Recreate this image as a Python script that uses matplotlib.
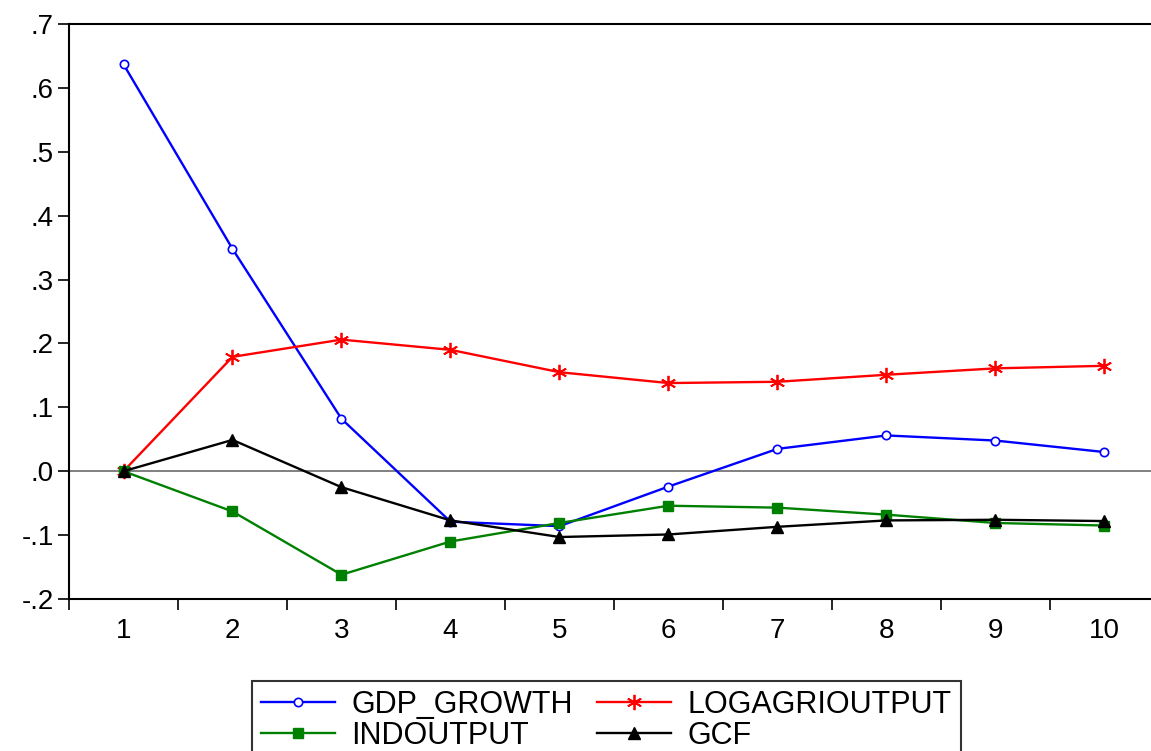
import matplotlib
matplotlib.use("Agg")
import matplotlib.pyplot as plt
from matplotlib.ticker import FixedLocator, FuncFormatter
import numpy as np

plt.rcParams['font.family'] = ['Liberation Sans', 'DejaVu Sans']

periods = [1, 2, 3, 4, 5, 6, 7, 8, 9, 10]
gdp_growth = [0.637, 0.348, 0.082, -0.079, -0.086, -0.024, 0.035, 0.056, 0.048, 0.030]
logagrioutput = [0.0, 0.179, 0.206, 0.190, 0.155, 0.138, 0.140, 0.151, 0.161, 0.165]
indoutput = [0.0, -0.063, -0.162, -0.110, -0.081, -0.054, -0.057, -0.068, -0.081, -0.085]
gcf = [0.0, 0.049, -0.025, -0.077, -0.103, -0.099, -0.087, -0.077, -0.076, -0.078]

fig = plt.figure(figsize=(11.51, 7.51), dpi=100)
ax = fig.add_axes([69/1151, 152/751, 1090/1151, 575/751])

ax.axhline(0, color='#808080', lw=1.4, zorder=1)

l1, = ax.plot(periods, gdp_growth, color='blue', lw=1.7, marker='o', ms=6,
              mfc='white', mec='blue', mew=1.2, label='GDP_GROWTH')
l2, = ax.plot(periods, logagrioutput, color='red', lw=1.7, marker=(6, 2, 0), ms=11,
              mec='red', mew=1.3, label='LOGAGRIOUTPUT')
l3, = ax.plot(periods, indoutput, color='green', lw=1.7, marker='s', ms=7,
              mfc='green', mec='green', label='INDOUTPUT')
l4, = ax.plot(periods, gcf, color='black', lw=1.7, marker='^', ms=8,
              mfc='black', mec='black', label='GCF')

ax.set_xlim(0.5, 10.5)
ax.set_ylim(-0.2, 0.7)

ax.set_xticks(periods)
ax.set_xticklabels([str(p) for p in periods])
ax.xaxis.set_minor_locator(FixedLocator(np.arange(0.5, 11, 1)))
ax.tick_params(axis='x', which='major', length=0, pad=14, labelsize=20)
ax.tick_params(axis='x', which='minor', direction='out', length=8, width=1.2)

ax.set_yticks(np.round(np.arange(-0.2, 0.71, 0.1), 1))
ax.yaxis.set_major_formatter(FuncFormatter(lambda v, p: f"{v:.1f}".replace("0.", ".")))
ax.tick_params(axis='y', direction='out', length=8, width=1.2, pad=3, labelsize=20)

for side in ['left', 'bottom', 'top', 'right']:
    ax.spines[side].set_linewidth(1.5)
    ax.spines[side].set_color('black')

# column-first fill, so order gives rows GDP/LOGAGRI and IND/GCF
leg = fig.legend([l1, l3, l2, l4], ['GDP_GROWTH', 'INDOUTPUT', 'LOGAGRIOUTPUT', 'GCF'],
                 loc='upper left', bbox_to_anchor=(252/1151, 1 - 681/751),
                 ncol=2, fontsize=22, frameon=True, fancybox=False,
                 edgecolor='black', handlelength=2.4, handletextpad=0.55,
                 columnspacing=0.8, labelspacing=0.02, borderpad=0.3,
                 borderaxespad=0)
leg.get_frame().set_linewidth(1.5)

fig.savefig('out.png', dpi=100)
